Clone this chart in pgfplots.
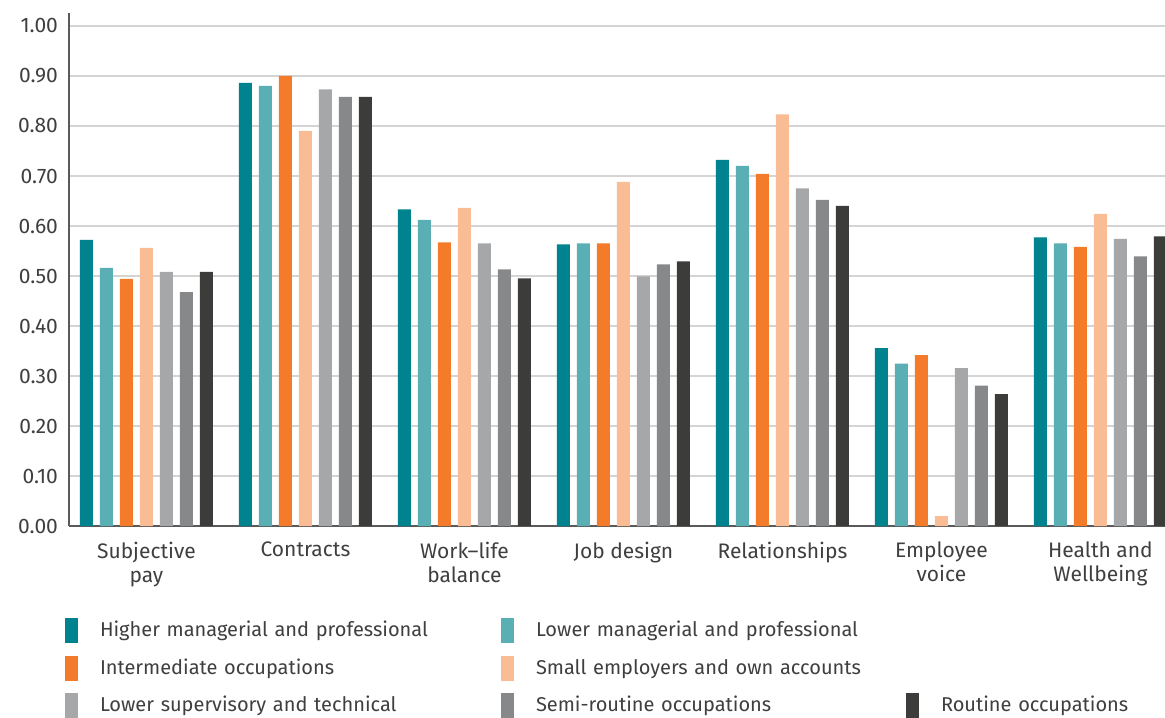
\documentclass[border=0pt]{standalone}
\usepackage{fontspec}
\setmainfont{Fira Sans}
\usepackage{pgfplots}
\usepackage{pgfplotstable}
\pgfplotsset{compat=1.18}

\definecolor{cteal}{HTML}{00838F}
\definecolor{clteal}{HTML}{5AAFB5}
\definecolor{corange}{HTML}{F47B2A}
\definecolor{cpeach}{HTML}{F9BC94}
\definecolor{clgray}{HTML}{A6A7A9}
\definecolor{cgray}{HTML}{87888A}
\definecolor{cdark}{HTML}{3C3C3B}
\definecolor{ctext}{HTML}{3F3F3F}
\definecolor{cgrid}{HTML}{D4D4D4}
\definecolor{caxis}{HTML}{5A5A5A}

% x = category index, one column per occupation class
\pgfplotstableread{
x  high   lowman inter  small  lowsup semi   rout
0  0.572  0.516  0.494  0.556  0.508  0.468  0.508
1  0.886  0.880  0.900  0.790  0.873  0.858  0.858
2  0.633  0.612  0.567  0.636  0.565  0.513  0.495
3  0.563  0.565  0.565  0.688  0.499  0.523  0.529
4  0.732  0.720  0.704  0.823  0.675  0.652  0.640
5  0.356  0.325  0.342  0.020  0.316  0.281  0.264
6  0.577  0.565  0.558  0.624  0.574  0.539  0.579
}\datatable

\pgfplotsset{
  mybar/.style={fill=#1, draw=none,
    legend image code/.code={\fill[#1] (0pt,-6.25pt) rectangle (6.5pt,6.25pt);}},
}

\begin{document}
\begin{tikzpicture}
\useasboundingbox (-34.5pt,-95.5pt) rectangle (548pt,263pt);
\begin{axis}[
  scale only axis,
  width=548pt, height=256.5pt,
  ybar, bar width=0.082,
  xmin=-0.487, xmax=6.406,
  ymin=0, ymax=1.026,
  ytick={0,0.1,...,1.0},
  xtick={0,...,6},
  xticklabels={Subjective\\pay, Contracts, Work–life\\balance, Job design, Relationships, Employee\\voice, Health and\\Wellbeing},
  axis x line*=bottom, axis y line*=left,
  axis line style={draw=caxis, line width=1.2pt},
  major tick length=0pt,
  ymajorgrids,
  grid style={draw=cgrid, line width=0.7pt},
  /pgf/number format/.cd, fixed, fixed zerofill, precision=2, assume math mode=true,
  /pgfplots/.cd,
  yticklabel style={font=\fontsize{10.5}{12}\selectfont, text=ctext, xshift=-2pt},
  xticklabel style={font=\fontsize{10.5}{12}\selectfont, text=ctext, align=center, yshift=-4.5pt},
  legend columns=3,
  legend cell align=left,
  legend style={at={(0,0)}, anchor=north west, xshift=-2pt, yshift=-46pt,
    draw=none, inner sep=0pt, outer sep=0pt, row sep=6.25pt,
    font=\fontsize{10}{12}\selectfont, text=ctext,
    nodes={text width=200.5pt, inner xsep=0pt, inner ysep=0pt},
    /tikz/every odd column/.append style={column sep=11pt},
    /tikz/column 4/.append style={nodes={text width=185pt}}},
]
\addplot[mybar=cteal,   bar shift=-0.3774] table[x=x, y=high]   {\datatable};
\addlegendentry{Higher managerial and professional}
\addplot[mybar=clteal,  bar shift=-0.2516] table[x=x, y=lowman] {\datatable};
\addlegendentry{Lower managerial and professional}
\addlegendimage{empty legend}\addlegendentry{}
\addplot[mybar=corange, bar shift=-0.1258] table[x=x, y=inter]  {\datatable};
\addlegendentry{Intermediate occupations}
\addplot[mybar=cpeach,  bar shift=0]       table[x=x, y=small]  {\datatable};
\addlegendentry{Small employers and own accounts}
\addlegendimage{empty legend}\addlegendentry{}
\addplot[mybar=clgray,  bar shift=0.1258]  table[x=x, y=lowsup] {\datatable};
\addlegendentry{Lower supervisory and technical}
\addplot[mybar=cgray,   bar shift=0.2516]  table[x=x, y=semi]   {\datatable};
\addlegendentry{Semi-routine occupations}
\addplot[mybar=cdark,   bar shift=0.3774]  table[x=x, y=rout]   {\datatable};
\addlegendentry{Routine occupations}
\end{axis}
\end{tikzpicture}
\end{document}
